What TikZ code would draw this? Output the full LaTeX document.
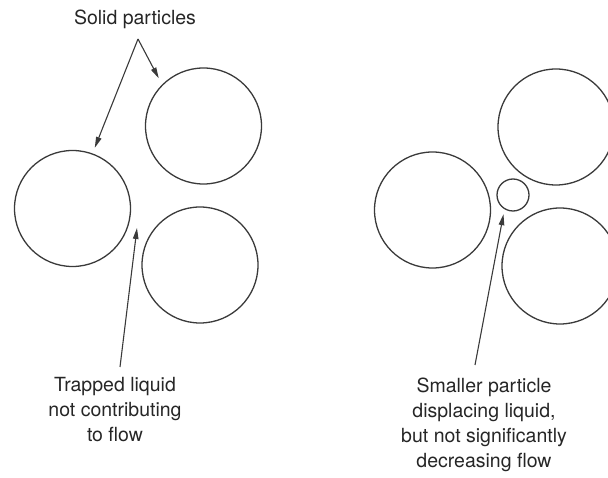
\documentclass[tikz,border=0pt]{standalone}
\usepackage{fontspec}
\setmainfont{TeX Gyre Heros}
\usetikzlibrary{arrows.meta}
\definecolor{ink}{HTML}{3A3A3A}
\definecolor{txt}{HTML}{262626}
\begin{document}
\begin{tikzpicture}[x=1pt,y=-1pt,
  particle/.style={circle, draw=ink, line width=1.3pt, inner sep=0pt, minimum size=#1},
  particle/.default=116pt,
  note/.style={font=\fontsize{19.5}{25}\selectfont, text=txt, align=center, inner sep=0pt},
  pointer/.style={draw=ink, line width=1.1pt, -{Triangle[length=11pt,width=5.5pt]}}]
\useasboundingbox (0,0) rectangle (608,478);
\clip (0,0) rectangle (608,478);
% left group
\node[particle] (L1) at (72.5,208.5) {};
\node[particle] (L2) at (203.5,126) {};
\node[particle] (L3) at (200,265) {};
% right group
\node[particle] (R1) at (432.5,210) {};
\node[particle] (R2) at (556,127) {};
\node[particle] (R3) at (560,266) {};
\node[particle=32pt] (Rs) at (513,195) {};
% labels
\node[note, anchor=base] (solid) at (135,25) {Solid particles};
\node[note, anchor=north] (trapped) at (115,377) {Trapped liquid\\not contributing\\to flow};
\node[note, anchor=north] (smaller) at (484,377.5) {Smaller particle\\displacing liquid,\\but not significantly\\decreasing flow};
% connector ends
\coordinate (apex) at (138,39);
\coordinate (pore) at (137,228);
\coordinate (trapStart) at (120,367);
\coordinate (smallStart) at (475,365);
% connectors
\draw[pointer, shorten >=6pt] (apex) -- (L1.70);
\draw[pointer, shorten >=7pt] (apex) -- (L2.135);
\draw[pointer] (trapStart) -- (pore);
\draw[pointer, shorten >=5pt] (smallStart) -- (Rs.-121);
\end{tikzpicture}
\end{document}
